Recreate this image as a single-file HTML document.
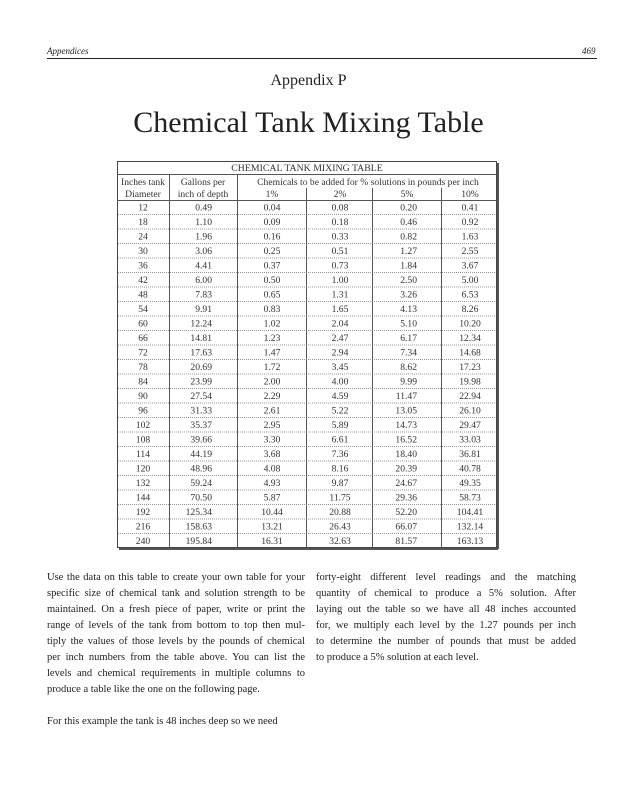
<!DOCTYPE html><html><head><meta charset="utf-8"><style>
body{margin:0;background:#fff;}
.pg{position:relative;width:617px;height:800px;overflow:hidden;font-family:"Liberation Serif",serif;color:#222;}
.a{position:absolute;white-space:nowrap;}
.col{position:absolute;font-size:10.5px;line-height:16px;}
.col div{text-align:justify;text-align-last:justify;white-space:nowrap;}
.col div.l{text-align-last:left;}
</style></head><body><div class="pg">
<div class="a" style="left:47px;top:46px;font-size:9px;font-style:italic;">Appendices</div>
<div class="a" style="left:582px;top:46px;font-size:9px;font-style:italic;">469</div>
<div class="a" style="left:47px;top:58px;width:550px;height:1px;background:#222;"></div>
<div class="a" style="left:0;width:617px;text-align:center;top:72px;font-size:16px;">Appendix P</div>
<div class="a" style="left:0;width:617px;text-align:center;top:106px;font-size:30px;">Chemical Tank Mixing Table</div>
<svg class="a" style="left:0;top:0" width="617" height="800" font-family="Liberation Serif,serif" font-size="9.6" fill="#333">
<rect x="117.5" y="161.5" width="379" height="386" fill="none" stroke="#444" stroke-width="1"/>
<line x1="119" y1="549" x2="498" y2="549" stroke="#555" stroke-width="2"/>
<line x1="498" y1="163" x2="498" y2="549" stroke="#555" stroke-width="2"/>
<line x1="117" y1="174.5" x2="497" y2="174.5" stroke="#555"/>
<line x1="117" y1="200.5" x2="497" y2="200.5" stroke="#555"/>
<line x1="169.5" y1="174" x2="169.5" y2="548" stroke="#555"/>
<line x1="237.5" y1="174" x2="237.5" y2="548" stroke="#555"/>
<line x1="306.5" y1="188" x2="306.5" y2="548" stroke="#555"/>
<line x1="372.5" y1="188" x2="372.5" y2="548" stroke="#555"/>
<line x1="441.5" y1="188" x2="441.5" y2="548" stroke="#555"/>
<text x="307" y="171" text-anchor="middle" font-size="9.8">CHEMICAL TANK MIXING TABLE</text>
<text x="143" y="185" text-anchor="middle">Inches tank</text>
<text x="143" y="197" text-anchor="middle">Diameter</text>
<text x="203" y="185" text-anchor="middle">Gallons per</text>
<text x="203" y="197" text-anchor="middle">inch of depth</text>
<text x="368" y="185" text-anchor="middle">Chemicals to be added for % solutions in pounds per inch</text>
<text x="272" y="197" text-anchor="middle">1%</text>
<text x="340" y="197" text-anchor="middle">2%</text>
<text x="407" y="197" text-anchor="middle">5%</text>
<text x="470" y="197" text-anchor="middle">10%</text>
<g id="rows"></g>
</svg>
<div class="col" style="left:47px;top:570px;width:258px;">
<div>Use the data on this table to create your own table for your</div>
<div>specific size of chemical tank and solution strength to be</div>
<div>maintained. On a fresh piece of paper, write or print the</div>
<div>range of levels of the tank from bottom to top then mul-</div>
<div>tiply the values of those levels by the pounds of chemical</div>
<div>per inch numbers from the table above. You can list the</div>
<div>levels and chemical requirements in multiple columns to</div>
<div class="l">produce a table like the one on the following page.</div>
<div class="l">&nbsp;</div>
<div class="l">For this example the tank is 48 inches deep so we need</div>
</div>
<div class="col" style="left:316px;top:570px;width:260px;">
<div>forty-eight different level readings and the matching</div>
<div>quantity of chemical to produce a 5% solution. After</div>
<div>laying out the table so we have all 48 inches accounted</div>
<div>for, we multiply each level by the 1.27 pounds per inch</div>
<div>to determine the number of pounds that must be added</div>
<div class="l">to produce a 5% solution at each level.</div>
</div>
<script>
var d=`12 0.49 0.04 0.08 0.20 0.41
18 1.10 0.09 0.18 0.46 0.92
24 1.96 0.16 0.33 0.82 1.63
30 3.06 0.25 0.51 1.27 2.55
36 4.41 0.37 0.73 1.84 3.67
42 6.00 0.50 1.00 2.50 5.00
48 7.83 0.65 1.31 3.26 6.53
54 9.91 0.83 1.65 4.13 8.26
60 12.24 1.02 2.04 5.10 10.20
66 14.81 1.23 2.47 6.17 12.34
72 17.63 1.47 2.94 7.34 14.68
78 20.69 1.72 3.45 8.62 17.23
84 23.99 2.00 4.00 9.99 19.98
90 27.54 2.29 4.59 11.47 22.94
96 31.33 2.61 5.22 13.05 26.10
102 35.37 2.95 5.89 14.73 29.47
108 39.66 3.30 6.61 16.52 33.03
114 44.19 3.68 7.36 18.40 36.81
120 48.96 4.08 8.16 20.39 40.78
132 59.24 4.93 9.87 24.67 49.35
144 70.50 5.87 11.75 29.36 58.73
192 125.34 10.44 20.88 52.20 104.41
216 158.63 13.21 26.43 66.07 132.14
240 195.84 16.31 32.63 81.57 163.13`.split("\n");
var s="",h=14.5;
var xs=[[143,"middle"],[212,"end"],[272,"middle"],[340,"middle"],[417,"end"],[470,"middle"]];
d.forEach(function(r,i){var v=r.split(" "),y=200+i*h;
 v.forEach(function(t,j){s+='<text x="'+xs[j][0]+'" y="'+(y+10.5)+'" text-anchor="'+xs[j][1]+'">'+t+'</text>';});
 if(i<23)s+='<line x1="118" x2="496" y1="'+(y+h)+'" y2="'+(y+h)+'" stroke="#777" stroke-width="0.7" stroke-dasharray="1,1"/>';
});
document.getElementById("rows").innerHTML=s;
</script>
</div></body></html>
